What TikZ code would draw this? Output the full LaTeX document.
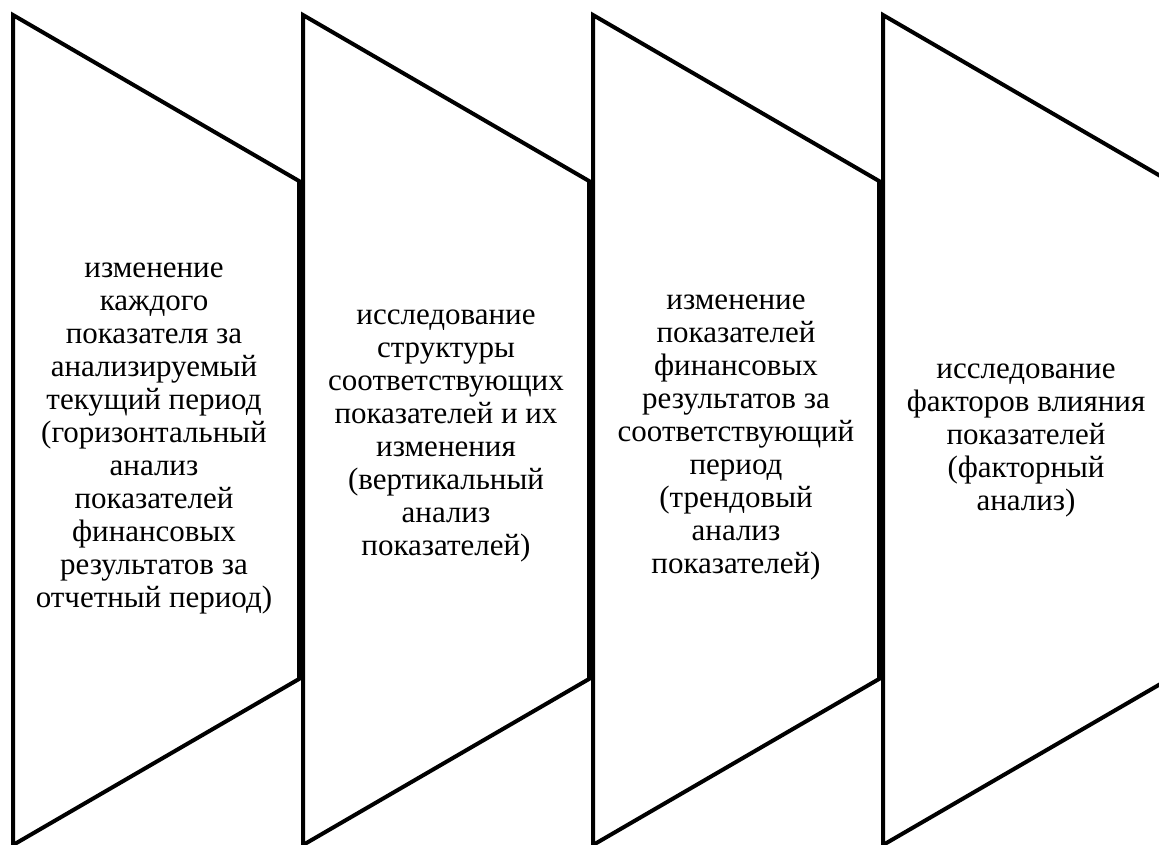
\documentclass[tikz,border=0pt]{standalone}
\usepackage{fontspec}
\setmainfont{Liberation Serif}
\begin{document}
\begin{tikzpicture}[x=1pt,y=-1pt,
  stage/.style={draw=black,line width=4pt,line join=miter,fill=white},
  lbl/.style={align=center,inner sep=0pt,font=\fontsize{31}{33}\selectfont}]
\useasboundingbox (0,0) rectangle (1159,844);
\clip (0,0) rectangle (1159,844);
\foreach \i in {0,1,2,3}{
  \draw[stage] ({13+290*\i},15) -- ({299+290*\i},181) -- ({299+290*\i},679) -- ({13+290*\i},845) -- cycle;
}
\node[lbl] (t1) at (154,438) {изменение\\каждого\\показателя за\\анализируемый\\текущий период\\(горизонтальный\\анализ\\показателей\\финансовых\\результатов за\\отчетный период)};
\node[lbl] (t2) at (446,436) {исследование\\структуры\\соответствующих\\показателей и их\\изменения\\(вертикальный\\анализ\\показателей)};
\node[lbl] (t3) at (736,437) {изменение\\показателей\\финансовых\\результатов за\\соответствующий\\период\\(трендовый\\анализ\\показателей)};
\node[lbl] (t4) at (1026,440) {исследование\\факторов влияния\\показателей\\(факторный\\анализ)};
\end{tikzpicture}
\end{document}
